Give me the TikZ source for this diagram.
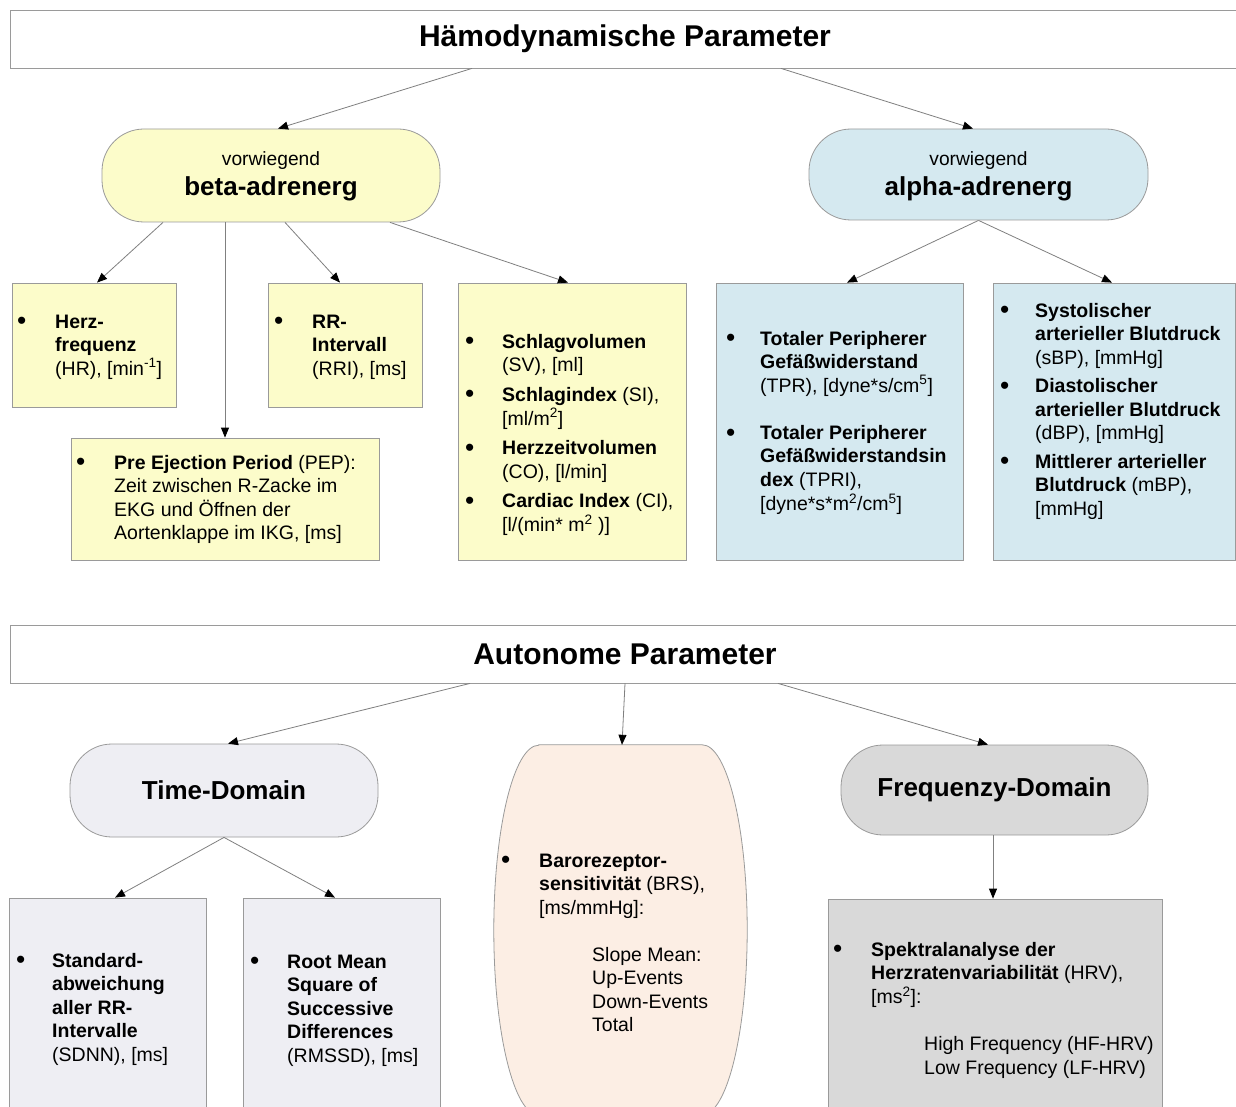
\documentclass[tikz,border=0pt]{standalone}
\usepackage{graphicx}
\usepackage{fontspec}
\setmainfont{Liberation Sans}
\usetikzlibrary{arrows.meta}

\definecolor{linegray}{HTML}{9A9A9A}
\definecolor{arrowgray}{HTML}{808080}
\definecolor{boxyellow}{HTML}{FCFCCA}
\definecolor{boxblue}{HTML}{D5E9F0}
\definecolor{boxlav}{HTML}{EEEEF3}
\definecolor{boxpeach}{HTML}{FCEEE4}
\definecolor{boxgray}{HTML}{D9D9D9}

\newcommand{\bodyfont}{\fontsize{19.5}{23.5}\selectfont}
\newcommand{\bul}{\raisebox{-1.8pt}{\scalebox{1.35}{\textbullet}}}
\tikzset{
  frame/.style={draw=linegray,line width=0.8pt,inner sep=0pt},
  ybox/.style={frame,fill=boxyellow},
  bbox/.style={frame,fill=boxblue},
  lbox/.style={frame,fill=boxlav},
  gbox/.style={frame,fill=boxgray},
  pill/.style={rounded corners=42pt},
  headbox/.style={frame,fill=white,font=\fontsize{30}{34}\selectfont\bfseries},
  domfont/.style={font=\fontsize{26}{30}\selectfont\bfseries},
  arr/.style={draw=arrowgray,line width=0.8pt,-{Triangle[length=10pt,width=8pt,color=black]}},
  txt/.style={anchor=base west,inner sep=0pt,font=\bodyfont},
  lblsmall/.style={anchor=base,inner sep=0pt,font=\fontsize{19.2}{22}\selectfont},
  lblbig/.style={anchor=base,inner sep=0pt,font=\fontsize{26}{30}\selectfont\bfseries}
}

\begin{document}
\begin{tikzpicture}[x=1pt,y=-1pt]
  \path[use as bounding box,fill=white] (0,0) rectangle (1236,1107);

  % Haemodynamik
  \node[headbox,minimum width=1230,minimum height=58] at (625,39) (ham) {Hämodynamische Parameter};
  \node[ybox,pill,minimum width=338,minimum height=93] at (271,175.5) (beta) {};
  \node[bbox,pill,minimum width=339,minimum height=91] at (978.5,174.5) (alpha) {};
  \node[lblsmall] at (271,166) (betaA) {vorwiegend};
  \node[lblbig] at (271,196) (betaB) {beta-adrenerg};
  \node[lblsmall] at (978.5,166) (alphaA) {vorwiegend};
  \node[lblbig] at (978.5,196) (alphaB) {alpha-adrenerg};

  \node[ybox,minimum width=164,minimum height=124] at (94,345) (hr) {};
  \node[ybox,minimum width=154,minimum height=124] at (345,345) (rr) {};
  \node[ybox,minimum width=308,minimum height=122] at (225,499) (pep) {};
  \node[ybox,minimum width=228,minimum height=277] at (572,421.5) (sv) {};
  \node[bbox,minimum width=247,minimum height=277] at (839.5,421.5) (tpr) {};
  \node[bbox,minimum width=242,minimum height=277] at (1114,421.5) (sbp) {};

  \node[txt] at (17,328) (hrT) {\begin{tabular}[t]{@{}p{38pt}@{}l@{}}
    \bul & \textbf{Herz-}\\ & \textbf{frequenz}\\ & (HR), [min\textsuperscript{-1}]
  \end{tabular}};
  \node[txt] at (274,328) (rrT) {\begin{tabular}[t]{@{}p{38pt}@{}l@{}}
    \bul & \textbf{RR-}\\ & \textbf{Intervall}\\ & (RRI), [ms]
  \end{tabular}};
  \node[txt] at (76,469) (pepT) {\begin{tabular}[t]{@{}p{38pt}@{}l@{}}
    \bul & \textbf{Pre Ejection Period} (PEP):\\ & Zeit zwischen R-Zacke im\\
    & EKG und Öffnen der\\ & Aortenklappe im IKG, [ms]
  \end{tabular}};
  \node[txt] at (465,348) (svT) {\begin{tabular}[t]{@{}p{37pt}@{}l@{}}
    \bul & \textbf{Schlagvolumen}\\ & (SV), [ml]\\[6pt]
    \bul & \textbf{Schlagindex} (SI),\\ & {[}ml/m\textsuperscript{2}]\\[6pt]
    \bul & \textbf{Herzzeitvolumen}\\ & (CO), [l/min]\\[6pt]
    \bul & \textbf{Cardiac Index} (CI),\\ & {[}l/(min* m\textsuperscript{2} )]
  \end{tabular}};
  \node[txt] at (726,345) (tprT) {\begin{tabular}[t]{@{}p{34pt}@{}l@{}}
    \bul & \textbf{Totaler Peripherer}\\ & \textbf{Gefäßwiderstand}\\
    & (TPR), [dyne*s/cm\textsuperscript{5}]\\ & \\
    \bul & \textbf{Totaler Peripherer}\\ & \textbf{Gefäßwiderstandsin}\\
    & \textbf{dex} (TPRI),\\ & {[}dyne*s*m\textsuperscript{2}/cm\textsuperscript{5}]
  \end{tabular}};
  \node[txt] at (1000,317) (sbpT) {\begin{tabular}[t]{@{}p{35pt}@{}l@{}}
    \bul & \textbf{Systolischer}\\ & \textbf{arterieller Blutdruck}\\ & (sBP), [mmHg]\\[5pt]
    \bul & \textbf{Diastolischer}\\ & \textbf{arterieller Blutdruck}\\ & (dBP), [mmHg]\\[5pt]
    \bul & \textbf{Mittlerer arterieller}\\ & \textbf{Blutdruck} (mBP),\\ & {[}mmHg]
  \end{tabular}};

  \draw[arr] ([xshift=-153pt]ham.south) -- ([xshift=7pt]beta.north);
  \draw[arr] ([xshift=156pt]ham.south) -- ([xshift=-5.5pt]alpha.north);
  \draw[arr] ([xshift=-108pt]beta.south) -- ([xshift=3pt]hr.north);
  \draw[arr] ([xshift=-46pt]beta.south) -- (pep.north);
  \draw[arr] ([xshift=14pt]beta.south) -- ([xshift=-5pt]rr.north);
  \draw[arr] ([xshift=119pt]beta.south) -- ([xshift=-4pt]sv.north);
  \draw[arr] (alpha.south) -- ([xshift=7.5pt]tpr.north);
  \draw[arr] (alpha.south) -- ([xshift=-2pt]sbp.north);

  % Autonome Parameter
  \node[headbox,minimum width=1230,minimum height=58] at (625,654) (aut) {Autonome Parameter};
  \node[lbox,pill,domfont,minimum width=308,minimum height=93] at (224,790.5) (time) {Time-Domain};
  \node[gbox,pill,domfont,minimum width=307,minimum height=90] at (994.5,790) (freq) {Frequenzy-Domain};
  \node[minimum width=253,minimum height=370,inner sep=0pt] at (620.5,930) (brs) {};
  \draw[frame,fill=boxpeach] ([xshift=45pt]brs.north west) -- ([xshift=-45pt]brs.north east)
    arc[start angle=90,end angle=-90,x radius=45pt,y radius=185pt]
    -- ([xshift=45pt]brs.south west)
    arc[start angle=270,end angle=90,x radius=45pt,y radius=185pt] -- cycle;

  \node[lbox,minimum width=197,minimum height=222] at (107.5,1009) (sdnn) {};
  \node[lbox,minimum width=197,minimum height=222] at (341.5,1009) (rmssd) {};
  \node[gbox,minimum width=334,minimum height=221] at (995,1009.5) (hrv) {};

  \node[txt] at (16,967) (sdnnT) {\begin{tabular}[t]{@{}p{36pt}@{}l@{}}
    \bul & \textbf{Standard-}\\ & \textbf{abweichung}\\ & \textbf{aller RR-}\\
    & \textbf{Intervalle}\\ & (SDNN), [ms]
  \end{tabular}};
  \node[txt] at (250,968) (rmssdT) {\begin{tabular}[t]{@{}p{37pt}@{}l@{}}
    \bul & \textbf{Root Mean}\\ & \textbf{Square of}\\ & \textbf{Successive}\\
    & \textbf{Differences}\\ & (RMSSD), [ms]
  \end{tabular}};
  \node[txt] at (501,867) (brsT) {\begin{tabular}[t]{@{}p{38pt}@{}l@{}}
    \bul & \textbf{Barorezeptor-}\\ & \textbf{sensitivität} (BRS),\\ & {[}ms/mmHg]:\\ & \\
    & \hspace*{53pt}Slope Mean:\\ & \hspace*{53pt}Up-Events\\
    & \hspace*{53pt}Down-Events\\ & \hspace*{53pt}Total
  \end{tabular}};
  \node[txt] at (833,956) (hrvT) {\begin{tabular}[t]{@{}p{38pt}@{}l@{}}
    \bul & \textbf{Spektralanalyse der}\\ & \textbf{Herzratenvariabilität} (HRV),\\
    & {[}ms\textsuperscript{2}]:\\ & \\
    & \hspace*{53pt}High Frequency (HF-HRV)\\ & \hspace*{53pt}Low Frequency (LF-HRV)
  \end{tabular}};

  \draw[arr] ([xshift=-155pt]aut.south) -- ([xshift=4pt]time.north);
  \draw[arr] (aut.south) -- ([xshift=1.5pt]brs.north);
  \draw[arr] ([xshift=153pt]aut.south) -- ([xshift=-6.5pt]freq.north);
  \draw[arr] (time.south) -- ([xshift=7.5pt]sdnn.north);
  \draw[arr] (time.south) -- ([xshift=-6.5pt]rmssd.north);
  \draw[arr] ([xshift=-1.5pt]freq.south) -- ([xshift=-2pt]hrv.north);
\end{tikzpicture}
\end{document}
